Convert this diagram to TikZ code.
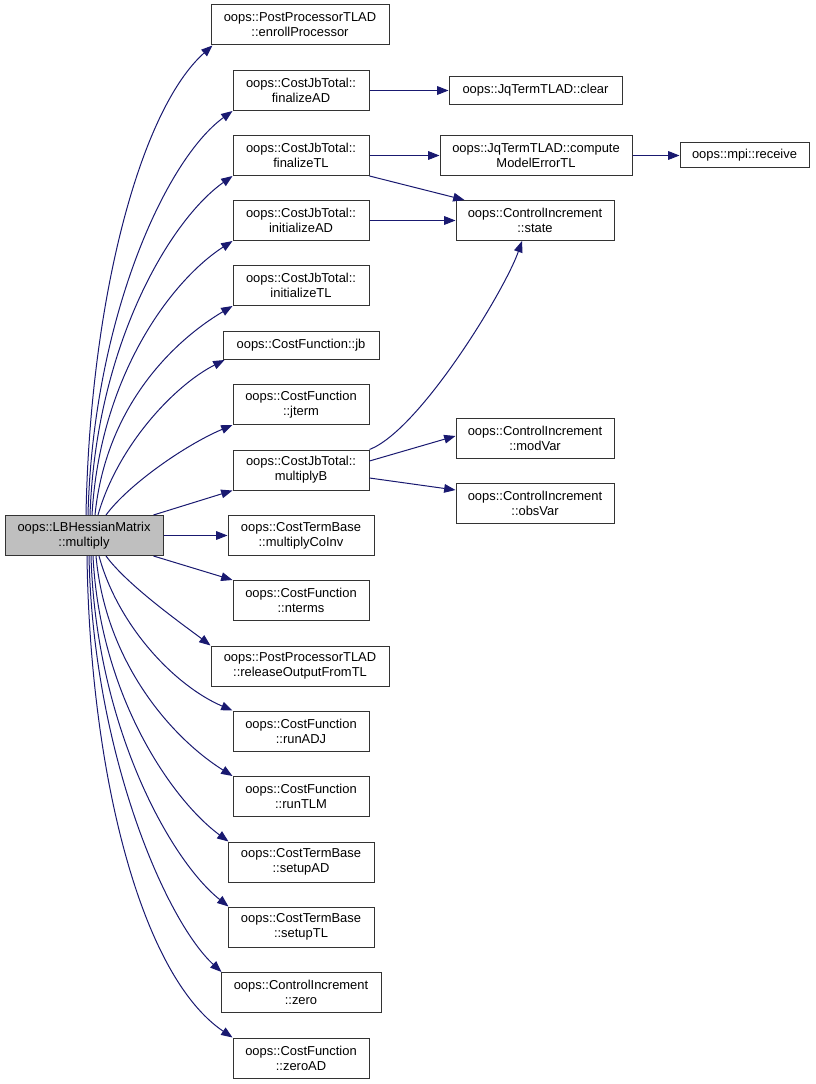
\documentclass[tikz,border=0pt]{standalone}
\usepackage{fontspec}
\setmainfont{Liberation Sans}
\usetikzlibrary{arrows.meta, calc}
\definecolor{edgeblue}{RGB}{25,25,112}
\definecolor{mainfill}{RGB}{191,191,191}

\begin{document}
\begin{tikzpicture}[
    x=0.75pt, y=-0.75pt,
    fn/.style={rectangle, draw=black!80, line width=0.75pt, fill=white,
               minimum height=30pt, inner xsep=6pt, align=center,
               font=\fontsize{9.7}{11.3}\selectfont},
    fnone/.style={fn, minimum height=21pt},
    edge/.style={-{Triangle[length=8.5pt, width=6.5pt]}, draw=edgeblue, line width=0.75pt},
]
\useasboundingbox (0,0) rectangle (815,1084);

% Caller
\node[fn, fill=mainfill, minimum width=118.5pt] (main) at (84,535.5) {oops::LBHessianMatrix\\::multiply};

% Callees, first column
\node[fn, minimum width=133.5pt] (enroll) at (300,25) {oops::PostProcessorTLAD\\::enrollProcessor};
\node[fn, minimum width=102pt] (finAD) at (301,90.5) {oops::CostJbTotal::\\finalizeAD};
\node[fn, minimum width=102pt] (finTL) at (301,155.5) {oops::CostJbTotal::\\finalizeTL};
\node[fn, minimum width=102pt] (iniAD) at (301,220.5) {oops::CostJbTotal::\\initializeAD};
\node[fn, minimum width=102pt] (iniTL) at (301,285.5) {oops::CostJbTotal::\\initializeTL};
\node[fnone, minimum width=117pt] (jb) at (301,345.5) {oops::CostFunction::jb};
\node[fn, minimum width=102pt] (jterm) at (301,404.5) {oops::CostFunction\\::jterm};
\node[fn, minimum width=102pt] (multB) at (301,470) {oops::CostJbTotal::\\multiplyB};
\node[fn, minimum width=109.5pt] (coinv) at (301,535.5) {oops::CostTermBase\\::multiplyCoInv};
\node[fn, minimum width=102pt] (nterms) at (301,600.5) {oops::CostFunction\\::nterms};
\node[fn, minimum width=133.5pt] (release) at (300,666) {oops::PostProcessorTLAD\\::releaseOutputFromTL};
\node[fn, minimum width=102pt] (runADJ) at (301,731) {oops::CostFunction\\::runADJ};
\node[fn, minimum width=102pt] (runTLM) at (301,796.5) {oops::CostFunction\\::runTLM};
\node[fn, minimum width=109.5pt] (setAD) at (301,862) {oops::CostTermBase\\::setupAD};
\node[fn, minimum width=109.5pt] (setTL) at (301,927) {oops::CostTermBase\\::setupTL};
\node[fn, minimum width=120pt] (zero) at (301,992.5) {oops::ControlIncrement\\::zero};
\node[fn, minimum width=102pt] (zeroAD) at (301,1058) {oops::CostFunction\\::zeroAD};

% Second and third column
\node[fnone, minimum width=129.75pt] (clear) at (535.5,90.5) {oops::JqTermTLAD::clear};
\node[fn, minimum width=144pt] (compute) at (536,155.5) {oops::JqTermTLAD::compute\\ModelErrorTL};
\node[fn, minimum width=118.5pt] (state) at (535,220.5) {oops::ControlIncrement\\::state};
\node[fn, minimum width=118.5pt] (modVar) at (535,438) {oops::ControlIncrement\\::modVar};
\node[fn, minimum width=118.5pt] (obsVar) at (535,503) {oops::ControlIncrement\\::obsVar};
\node[fnone, minimum width=96.75pt, minimum height=18.75pt] (receive) at (744.5,155.5) {oops::mpi::receive};

% Calls going up
\draw[edge] ($(main.north)+(2,0)$) .. controls (90,300) and (140,110) .. ($(enroll.south west)+(2,0)$);
\draw[edge] ($(main.north)+(4,0)$) .. controls (93,320) and (165,160) .. (finAD.south west);
\draw[edge] ($(main.north)+(6,0)$) .. controls (96,345) and (170,220) .. (finTL.south west);
\draw[edge] ($(main.north)+(8,0)$) .. controls (100,375) and (172,280) .. (iniAD.south west);
\draw[edge] ($(main.north)+(11,0)$) .. controls (106,405) and (175,340) .. (iniTL.south west);
\draw[edge] ($(main.north)+(14,0)$) .. controls (118,445) and (175,385) .. ($(jb.south west)+(2,0)$);
\draw[edge] ($(main.north)+(22,0)$) .. controls (128,485) and (185,445) .. (jterm.south west);

% Straight calls
\draw[edge] ($(main.north east)+(-10,0)$) -- (multB.south west);
\draw[edge] (main.east) -- (coinv.west);
\draw[edge] ($(main.south east)+(-10,0)$) -- (nterms.north west);

% Calls going down
\draw[edge] ($(main.south)+(22,0)$) .. controls (128,586) and (185,626) .. (release.north west);
\draw[edge] ($(main.south)+(15,0)$) .. controls (118,626) and (175,686) .. (runADJ.north west);
\draw[edge] ($(main.south)+(12,0)$) .. controls (106,666) and (175,740) .. (runTLM.north west);
\draw[edge] ($(main.south)+(9,0)$) .. controls (100,696) and (172,800) .. ($(setAD.north west)+(1,0)$);
\draw[edge] ($(main.south)+(7,0)$) .. controls (96,726) and (170,860) .. ($(setTL.north west)+(1,0)$);
\draw[edge] ($(main.south)+(5,0)$) .. controls (93,751) and (165,920) .. ($(zero.north west)+(1,0)$);
\draw[edge] ($(main.south)+(3,0)$) .. controls (90,771) and (140,975) .. (zeroAD.north west);

% Right part
\draw[edge] (finAD.east) -- (clear.west);
\draw[edge] (finTL.east) -- (compute.west);
\draw[edge] (finTL.south east) -- ($(state.north west)+(9,0)$);
\draw[edge] (iniAD.east) -- (state.west);
\draw[edge] (multB.north east) .. controls (420,430) and (505,290) .. ($(state.south)+(-13,0)$);
\draw[edge] ($(multB.east)+(0,-9)$) -- ($(modVar.west)+(0,-2)$);
\draw[edge] ($(multB.east)+(0,8)$) -- ($(obsVar.west)+(0,-13)$);
\draw[edge] (compute.east) -- (receive.west);

\end{tikzpicture}
\end{document}
